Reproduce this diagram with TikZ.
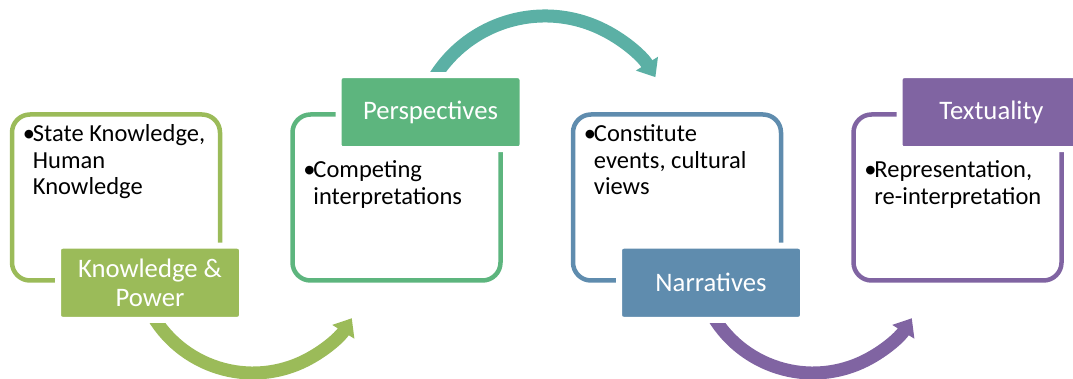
\documentclass[tikz,border=0pt]{standalone}
\usepackage{fontspec}
\setmainfont{Carlito}
\usetikzlibrary{arrows.meta}
\usetikzlibrary{positioning}
\definecolor{kpgreen}{HTML}{9BBB59}
\definecolor{perspgreen}{HTML}{5DB57E}
\definecolor{flowteal}{HTML}{5BB0A5}
\definecolor{narrblue}{HTML}{5F8CAE}
\definecolor{textpurple}{HTML}{8064A2}
% bullet with the following lines hung under the text
\newcommand{\bul}[1]{\makebox[10pt][l]{•}\begin{tabular}[t]{@{}l@{}}#1\end{tabular}}
\tikzset{
    panel/.style={
           rectangle,
           rounded corners=18pt,
           draw=#1, line width=4.5pt,
           fill=white,
           minimum width=208pt, minimum height=166pt,
           },
}
\tikzset{
    tag/.style={
           rectangle,
           rounded corners=4pt,
           draw=white, line width=6pt,
           fill=#1,
           minimum width=184pt, minimum height=74pt,
           text=white, align=center,
           font=\fontsize{26.7}{28.5}\selectfont,
           },
}
\tikzset{
    note/.style={
           anchor=base west,
           inner sep=0pt,
           font=\fontsize{24.5}{26.8}\selectfont,
           },
}
\tikzset{
    flow/.style={
           draw=#1, line width=13pt,
           -{Triangle[width=25pt,length=16pt]},
           },
}

\begin{document}
\begin{tikzpicture}[x=1pt,y=1pt]
\useasboundingbox (0,0) rectangle (1073,-379);
% arc centres
\coordinate (c1) at (253,-256.5);
\coordinate (c2) at (545,-146.2);
\coordinate (c3) at (813,-256.5);
\draw[flow=kpgreen] (c1) ++(205:116.5) arc[start angle=205, end angle=328, radius=116.5];
\draw[flow=flowteal] (c2) ++(155:130.2) arc[start angle=155, end angle=32, radius=130.2];
\draw[flow=textpurple] (c3) ++(205:116.5) arc[start angle=205, end angle=328, radius=116.5];
% the four panels
\node[panel=kpgreen] (b1) at (116,-197.5) {};
\node[panel=perspgreen, right=68pt of b1] (b2) {};
\node[panel=narrblue, right=68pt of b2] (b3) {};
\node[panel=textpurple, right=68pt of b3] (b4) {};
% bullet texts
\node[note] (n1) at ([shift={(13pt,-29pt)}]b1.north west) {\bul{State Knowledge,\\Human\\Knowledge}};
\node[note] (n2) at ([shift={(13pt,-65.5pt)}]b2.north west) {\bul{Competing\\interpretations}};
\node[note] (n3) at ([shift={(13pt,-29pt)}]b3.north west) {\bul{Constitute\\events, cultural\\views}};
\node[note] (n4) at ([shift={(13pt,-65.5pt)}]b4.north west) {\bul{Representation,\\re-interpretation}};
% headings
\node[tag=kpgreen, xshift=34pt] (t1) at (b1.south) {Knowledge \&\\Power};
\node[tag=perspgreen, xshift=34pt] (t2) at (b2.north) {Perspectives};
\node[tag=narrblue, xshift=34pt] (t3) at (b3.south) {Narratives};
\node[tag=textpurple, xshift=34pt] (t4) at (b4.north) {Textuality};
\end{tikzpicture}
\end{document}
